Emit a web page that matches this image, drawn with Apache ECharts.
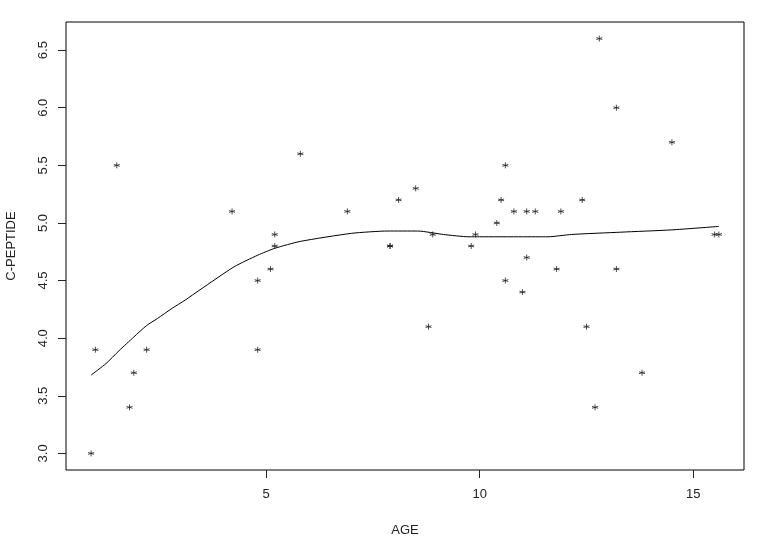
<!DOCTYPE html>
<html>
<head>
<meta charset="utf-8">
<script src="https://cdn.jsdelivr.net/npm/echarts@6/dist/echarts.min.js"></script>
<style>html,body{margin:0;padding:0;background:#fff;}#c{width:768px;height:543px;}</style>
</head>
<body>
<div id="c"></div>
<script>
var age = [0.9, 1.0, 1.5, 1.8, 1.9, 2.2, 4.2, 4.8, 4.8, 5.1, 5.2, 5.2, 5.8, 6.9, 7.9, 7.9, 8.1, 8.5, 8.8, 8.9, 9.8, 9.9, 10.4, 10.5, 10.6, 10.6, 10.8, 11.0, 11.1, 11.1, 11.3, 11.8, 11.9, 12.4, 12.5, 12.7, 12.8, 13.2, 13.2, 13.8, 14.5, 15.5, 15.6];
var cpeptide = [3.0, 3.9, 5.5, 3.4, 3.7, 3.9, 5.1, 4.5, 3.9, 4.6, 4.9, 4.8, 5.6, 5.1, 4.8, 4.8, 5.2, 5.3, 4.1, 4.9, 4.8, 4.9, 5.0, 5.2, 5.5, 4.5, 5.1, 4.4, 5.1, 4.7, 5.1, 4.6, 5.1, 5.2, 4.1, 3.4, 6.6, 6.0, 4.6, 3.7, 5.7, 4.9, 4.9];
var smoothX = [0.9, 1.25, 1.55, 1.9, 2.2, 2.45, 2.8, 3.1, 3.45, 4.25, 4.8, 5.2, 5.8, 7.0, 7.85, 8.55, 9.15, 9.75, 10.0, 11.0, 11.6, 12.15, 13.3, 14.5, 15.6];
var smoothY = [3.68, 3.78, 3.89, 4.01, 4.11, 4.17, 4.26, 4.33, 4.42, 4.62, 4.72, 4.78, 4.84, 4.91, 4.93, 4.93, 4.90, 4.88, 4.88, 4.88, 4.88, 4.90, 4.92, 4.94, 4.97];
var xTicks = [5, 10, 15];
var yTicks = [3.0, 3.5, 4.0, 4.5, 5.0, 5.5, 6.0, 6.5];

var pts = age.map(function (a, i) { return [a, cpeptide[i]]; });
var curve = smoothX.map(function (a, i) { return [a, smoothY[i]]; });
var font = 'Arial, "Liberation Sans", sans-serif';
var star = 'path://M0,-10 L0,10 M-9.5,-3.1 L9.5,3.1 M-9.5,3.1 L9.5,-3.1';

var chart = echarts.init(document.getElementById('c'), null, {renderer: 'canvas'});
chart.setOption({
  animation: false,
  backgroundColor: '#fff',
  grid: {left: 66, right: 24, top: 22, bottom: 73, outerBoundsMode: 'none', containLabel: false,
    show: true, borderColor: '#000', borderWidth: 1, backgroundColor: 'transparent'},
  xAxis: {
    type: 'value', min: 0.312, max: 16.188,
    name: 'AGE', nameLocation: 'middle', nameGap: 54,
    nameTextStyle: {fontFamily: font, fontSize: 13, color: '#222'},
    axisLine: {show: false},
    axisTick: {show: true, customValues: xTicks, length: 8, lineStyle: {color: '#222'}},
    axisLabel: {customValues: xTicks, margin: 18, fontFamily: font, fontSize: 13, color: '#222'},
    splitLine: {show: false}
  },
  yAxis: {
    type: 'value', min: 2.856, max: 6.744,
    name: 'C-PEPTIDE', nameLocation: 'middle', nameGap: 48, nameRotate: 90,
    nameTextStyle: {fontFamily: font, fontSize: 13, color: '#222'},
    axisLine: {show: false},
    axisTick: {show: true, customValues: yTicks, length: 8, lineStyle: {color: '#222'}},
    axisLabel: {customValues: yTicks, rotate: 90, margin: 16, fontFamily: font, fontSize: 13, color: '#222',
      formatter: function (v) { return Number(v).toFixed(1); }},
    splitLine: {show: false}
  },
  series: [
    {
      type: 'scatter', data: pts, symbol: star, symbolSize: 6,
      itemStyle: {color: 'none', borderColor: '#222', borderWidth: 1}
    },
    {
      type: 'line', data: curve, showSymbol: false, smooth: 0.2,
      lineStyle: {color: '#000', width: 1}
    }
  ]
});
</script>
</body>
</html>
